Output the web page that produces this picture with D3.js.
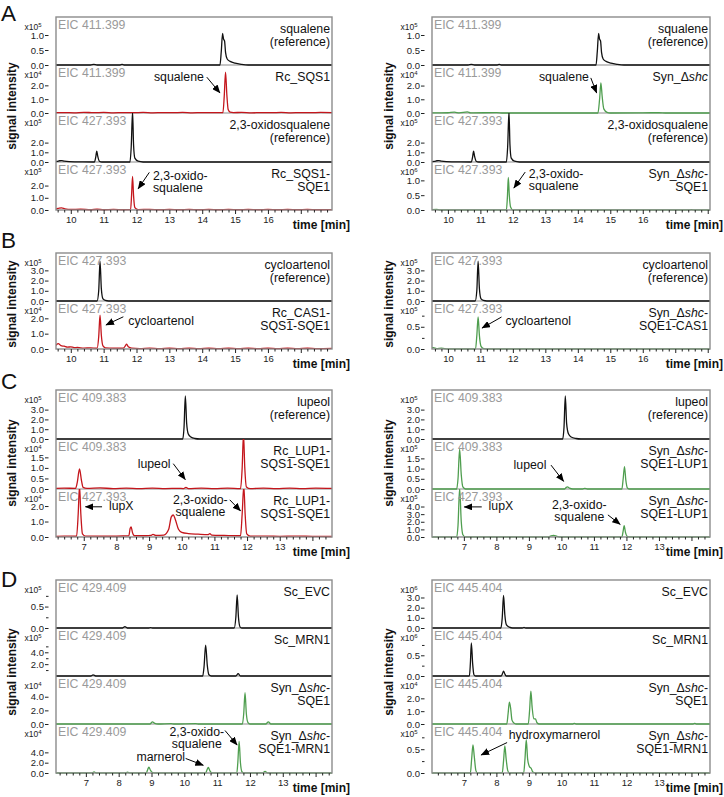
<!DOCTYPE html>
<html><head><meta charset="utf-8">
<script src="https://cdn.jsdelivr.net/npm/d3@7"></script>
<style>body{margin:0;background:#fff}svg{display:block}</style>
</head><body><svg id="c" width="724" height="797"></svg>
<script>
// ---------------- DATA (time [min], intensity in units of the panel exponent) ----------------
const A_TICKS = [10, 11, 12, 13, 14, 15, 16];
const C_TICKS = [7, 8, 9, 10, 11, 12, 13];

const SQUALENE_REF = [[9.4,0],[10.6,0],[10.7,0.02],[10.8,0],[11.5,0],[11.56,0.02],[11.62,0],[14.54,0],[14.58,0.45],[14.62,1.05],[14.65,0.86],[14.68,0.8],[14.71,0.42],[14.76,0.2],[14.85,0.12],[15.0,0.06],[15.2,0.02],[15.4,0],[18.2,0]];
const SQUALENE_REF_R = [[9.4,0],[10.62,0],[10.72,0.02],[10.82,0],[11.52,0],[11.58,0.02],[11.64,0],[14.56,0],[14.6,0.45],[14.64,1.05],[14.67,0.86],[14.7,0.8],[14.73,0.42],[14.78,0.2],[14.87,0.12],[15.02,0.06],[15.22,0.02],[15.42,0],[18.2,0]];
const A_L2 = [[9.4,0.01],[9.8,0.03],[10.1,0.01],[10.4,0.05],[10.7,0.02],[11.0,0.04],[11.3,0.01],[11.6,0.03],[11.9,0.02],[12.2,0.04],[12.5,0.01],[12.8,0.03],[13.1,0.02],[13.4,0.04],[13.7,0.01],[14.0,0.03],[14.3,0.02],[14.63,0.02],[14.67,1.2],[14.71,2.95],[14.75,1.3],[14.79,0.25],[14.85,0.06],[14.95,0.03],[15.2,0.04],[15.5,0.01],[15.8,0.03],[16.1,0.02],[16.4,0.04],[16.7,0.01],[17.0,0.03],[17.3,0.02],[17.6,0.04],[18.0,0.02]];
const OXSQ_REF = [[9.4,0.03],[9.58,0.06],[9.66,0.13],[9.72,0.15],[9.8,0.08],[9.95,0.03],[10.2,0.02],[10.72,0],[10.76,0.5],[10.79,1.13],[10.82,0.6],[10.87,0.08],[10.95,0],[11.8,0],[11.84,1.6],[11.88,5.2],[11.91,1.8],[11.95,0.4],[12.05,0.08],[12.2,0],[18.2,0]];
const A_L4 = [[9.4,0.04],[9.58,0.1],[9.65,0.16],[9.72,0.17],[9.82,0.1],[10.0,0.04],[10.3,0.06],[10.6,0.02],[10.8,0.06],[11.0,0.02],[11.3,0.05],[11.6,0.02],[11.82,0.03],[11.85,1.2],[11.88,2.75],[11.91,1.2],[11.95,0.2],[12.05,0.03],[12.4,0.05],[12.7,0.02],[13.0,0.05],[13.3,0.02],[13.6,0.05],[13.9,0.02],[14.2,0.05],[14.5,0.02],[14.8,0.05],[15.1,0.02],[15.4,0.05],[15.7,0.02],[16.0,0.05],[16.3,0.02],[16.6,0.05],[16.9,0.02],[17.2,0.05],[17.5,0.02],[18.0,0.04]];
const A_R2 = [[9.4,0],[10.0,0.02],[10.2,0.06],[10.35,0.01],[10.6,0.08],[10.7,0.01],[11.5,0.03],[11.7,0],[14.62,0],[14.67,1.0],[14.71,2.2],[14.75,1.2],[14.8,0.3],[14.9,0.05],[15.0,0],[16.5,0.02],[16.7,0],[18.2,0]];
const A_R4 = [[9.4,0],[9.65,0.02],[9.75,0],[11.8,0],[11.83,0.4],[11.86,1.1],[11.89,0.5],[11.93,0.1],[12.0,0],[17.4,0],[17.5,0.01],[17.6,0],[18.2,0]];

const CYC_REF_L = [[9.4,0],[10.8,0],[10.85,1.0],[10.89,3.9],[10.93,1.2],[10.98,0.2],[11.05,0.05],[11.15,0],[18.2,0]];
const B_L2 = [[9.5,0.1],[9.57,0.3],[9.62,0.35],[9.7,0.22],[9.8,0.18],[9.9,0.12],[10.0,0.14],[10.1,0.09],[10.2,0.1],[10.4,0.06],[10.6,0.07],[10.8,0.05],[10.85,0.8],[10.89,2.2],[10.93,0.9],[10.98,0.2],[11.05,0.08],[11.3,0.05],[11.6,0.05],[11.66,0.2],[11.7,0.32],[11.75,0.15],[11.85,0.06],[12.1,0.03],[12.4,0.06],[12.7,0.02],[13.0,0.05],[13.3,0.02],[13.6,0.05],[13.9,0.02],[14.2,0.05],[14.5,0.02],[14.8,0.05],[15.1,0.02],[15.4,0.05],[15.7,0.02],[16.0,0.05],[16.3,0.02],[16.6,0.05],[16.9,0.02],[17.2,0.05],[17.5,0.02],[18.0,0.04]];
const CYC_REF_R = [[9.4,0],[10.84,0],[10.89,1.0],[10.93,3.9],[10.97,1.2],[11.02,0.2],[11.09,0.05],[11.2,0],[18.2,0]];
const B_R2 = [[9.4,0.01],[9.55,0.03],[9.65,0.01],[9.8,0.02],[10.0,0],[10.85,0],[10.89,0.3],[10.93,0.72],[10.97,0.3],[11.02,0.06],[11.1,0.01],[11.2,0],[18.2,0]];

const LUP_REF_L = [[6.0,0],[10.03,0],[10.07,1.2],[10.11,4.4],[10.15,1.6],[10.2,0.5],[10.28,0.2],[10.4,0.05],[10.55,0],[14.8,0]];
const C_L2 = [[6.0,0.02],[6.4,0.04],[6.75,0.03],[6.8,0.3],[6.87,0.95],[6.93,0.4],[6.98,0.08],[7.1,0.03],[7.5,0.05],[7.9,0.02],[8.3,0.04],[8.7,0.02],[9.1,0.04],[9.5,0.02],[9.9,0.03],[10.05,0.02],[10.13,0.08],[10.2,0.02],[10.6,0.04],[11.0,0.02],[11.4,0.04],[11.8,0.02],[11.85,1.0],[11.89,2.6],[11.93,1.0],[11.98,0.1],[12.1,0.02],[12.5,0.04],[12.9,0.02],[13.3,0.04],[13.7,0.02],[14.1,0.04],[14.8,0.02]];
const C_L3 = [[6.0,0.03],[6.4,0.06],[6.78,0.05],[6.83,1.5],[6.87,3.3],[6.91,1.5],[6.96,0.2],[7.05,0.06],[7.5,0.05],[8.0,0.05],[8.38,0.08],[8.42,0.55],[8.45,0.65],[8.49,0.3],[8.55,0.08],[8.9,0.08],[9.05,0.1],[9.12,0.17],[9.2,0.1],[9.45,0.12],[9.6,0.5],[9.68,1.3],[9.74,1.42],[9.8,1.15],[9.9,0.5],[10.0,0.3],[10.2,0.22],[10.5,0.18],[10.8,0.15],[10.86,0.22],[10.92,0.12],[11.3,0.1],[11.8,0.08],[11.85,1.5],[11.9,3.3],[11.94,1.5],[11.99,0.2],[12.1,0.05],[12.6,0.06],[13.0,0.04],[13.5,0.06],[14.0,0.04],[14.8,0.03]];
const LUP_REF_R = [[6.0,0],[10.04,0],[10.08,1.2],[10.12,4.4],[10.16,1.6],[10.22,0.5],[10.3,0.2],[10.45,0.05],[10.6,0],[14.8,0]];
const C_R2 = [[6.0,0],[6.78,0],[6.82,0.5],[6.87,1.95],[6.92,0.7],[6.97,0.1],[7.05,0],[10.1,0],[10.15,0.08],[10.19,0.1],[10.25,0.04],[10.35,0],[10.65,0],[10.72,0.03],[10.8,0],[11.86,0],[11.9,0.5],[11.94,1.1],[11.98,0.45],[12.03,0.05],[12.1,0],[14.8,0]];
const C_R3 = [[6.0,0],[6.78,0],[6.82,1.5],[6.87,6.4],[6.92,2.0],[6.97,0.3],[7.05,0],[9.6,0],[9.68,0.15],[9.76,0.2],[9.85,0.12],[9.95,0],[11.86,0],[11.9,0.8],[11.93,1.5],[11.97,0.6],[12.02,0.1],[12.1,0],[14.8,0]];

const D_L1 = [[6.0,0],[8.12,0],[8.19,0.03],[8.26,0],[8.9,0],[8.97,0.01],[9.05,0],[11.52,0],[11.57,0.25],[11.61,0.77],[11.65,0.25],[11.7,0.02],[11.75,0],[14.8,0]];
const D_L2 = [[6.0,0],[7.15,0],[7.22,0.2],[7.3,0],[10.56,0],[10.6,1.5],[10.65,5.2],[10.7,1.8],[10.75,0.2],[10.82,0],[11.57,0],[11.64,0.4],[11.71,0],[14.8,0]];
const D_L3 = [[6.0,0],[8.95,0],[9.03,0.3],[9.1,0.1],[9.2,0],[9.6,0.05],[9.7,0],[10.35,0.06],[10.45,0],[11.77,0],[11.81,1.5],[11.85,4.6],[11.89,1.5],[11.94,0.2],[12.0,0],[12.48,0],[12.56,0.3],[12.64,0],[14.8,0]];
const D_L4 = [[6.0,0],[7.18,0],[7.25,0.2],[7.32,0],[8.2,0],[8.27,0.15],[8.34,0],[8.84,0],[8.88,0.6],[8.92,1.15],[8.97,0.5],[9.03,0.1],[9.1,0],[10.65,0],[10.69,0.6],[10.73,1.1],[10.78,0.4],[10.84,0],[11.6,0],[11.63,2.0],[11.67,6.15],[11.71,2.0],[11.76,0.2],[11.82,0],[12.38,0],[12.46,0.3],[12.54,0],[14.8,0]];
const D_R1 = [[6.0,0],[8.14,0],[8.18,1.0],[8.22,3.2],[8.26,1.3],[8.31,0.3],[8.4,0.08],[8.5,0],[8.8,0],[8.85,0.05],[8.9,0],[14.8,0]];
const D_R2 = [[6.0,0],[7.17,0],[7.2,0.3],[7.23,0.8],[7.27,0.3],[7.31,0.03],[7.36,0],[8.15,0],[8.19,0.06],[8.22,0.12],[8.26,0.05],[8.3,0],[14.8,0]];
const D_R3 = [[6.0,0],[8.32,0],[8.36,0.8],[8.4,1.7],[8.44,1.2],[8.48,0.3],[8.55,0.05],[8.6,0],[8.98,0],[9.02,1.0],[9.06,2.55],[9.1,1.3],[9.15,0.4],[9.2,0.4],[9.25,0.1],[9.32,0],[10.35,0],[10.4,0.05],[10.45,0],[14.05,0],[14.1,0.05],[14.15,0],[14.8,0]];
const D_R4 = [[6.0,0],[7.2,0],[7.24,0.3],[7.28,0.59],[7.32,0.35],[7.37,0.05],[7.42,0],[8.18,0],[8.22,0.25],[8.26,0.57],[8.3,0.3],[8.35,0.05],[8.4,0],[8.84,0],[8.88,0.3],[8.92,0.7],[8.96,0.3],[9.02,0.13],[9.07,0.1],[9.12,0.02],[9.2,0],[14.8,0]];

// sub-panel descriptions (labels, exponent, y-domain max, y ticks, trace, sample kind, annotations)
const A_LEFT = [
  {eic:"EIC 411.399", label:["squalene","(reference)"], exp:5, max:1.6, ticks:[0,0.5,1], kind:"ref", data:SQUALENE_REF},
  {eic:"EIC 411.399", label:["Rc_SQS1"], exp:4, max:3.47, ticks:[0,1,2], kind:"rc", data:A_L2,
    ann:[{text:["squalene"], t:14.05, v:2.29, anchor:"end", from:[14.14,2.59], to:[14.54,1.45]}]},
  {eic:"EIC 427.393", label:["2,3-oxidosqualene","(reference)"], exp:5, max:5.05, ticks:[0,1,2], kind:"ref", data:OXSQ_REF},
  {eic:"EIC 427.393", label:["Rc_SQS1-","SQE1"], exp:5, max:3.93, ticks:[0,1,2], kind:"rc", data:A_L4,
    ann:[{text:["2,3-oxido-","squalene"], t:12.5, v:2.48, anchor:"start", from:[12.39,3.08], to:[12.05,1.74]}]}
];
const A_RIGHT = [
  {eic:"EIC 411.399", label:["squalene","(reference)"], exp:5, max:1.6, ticks:[0,0.5,1], kind:"ref", data:SQUALENE_REF_R},
  {eic:"EIC 411.399", label:["Syn_Δ<i>shc</i>"], exp:4, max:3.5, ticks:[0,1,2], kind:"syn", data:A_R2,
    ann:[{text:["squalene"], t:14.34, v:2.31, anchor:"end", from:[14.4,2.56], to:[14.58,1.46]}]},
  {eic:"EIC 427.393", label:["2,3-oxidosqualene","(reference)"], exp:5, max:5.05, ticks:[0,1,2], kind:"ref", data:OXSQ_REF},
  {eic:"EIC 427.393", label:["Syn_Δ<i>shc</i>-","SQE1"], exp:6, max:1.62, ticks:[0,0.5,1], kind:"syn", data:A_R4,
    ann:[{text:["2,3-oxido-","squalene"], t:12.49, v:1.09, anchor:"start", from:[12.38,1.28], to:[12.03,0.74]}]}
];
const B_LEFT = [
  {eic:"EIC 427.393", label:["cycloartenol","(reference)"], exp:5, max:4.7, ticks:[0,1,2,3], kind:"ref", data:CYC_REF_L},
  {eic:"EIC 427.393", label:["Rc_CAS1-","SQS1-SQE1"], exp:4, max:3.13, ticks:[0,1,2], kind:"rc", data:B_L2,
    ann:[{text:["cycloartenol"], t:11.75, v:1.57, anchor:"start", from:[11.6,2.1], to:[11.07,1.57]}]}
];
const B_RIGHT = [
  {eic:"EIC 427.393", label:["cycloartenol","(reference)"], exp:5, max:4.7, ticks:[0,1,2,3], kind:"ref", data:CYC_REF_R},
  {eic:"EIC 427.393", label:["Syn_Δ<i>shc</i>-","SQE1-CAS1"], exp:5, max:1.08, ticks:[0,0.5], minor:[0.25,0.75], kind:"syn", data:B_R2,
    ann:[{text:["cycloartenol"], t:11.77, v:0.53, anchor:"start", from:[11.65,0.72], to:[11.05,0.47]}]}
];
const C_LEFT = [
  {eic:"EIC 409.383", label:["lupeol","(reference)"], exp:5, max:5.0, ticks:[0,1,2,3], kind:"ref", data:LUP_REF_L},
  {eic:"EIC 409.383", label:["Rc_LUP1-","SQS1-SQE1"], exp:4, max:2.37, ticks:[0,0.5,1,1.5], kind:"rc", data:C_L2,
    ann:[{text:["lupeol"], t:8.65, v:0.99, anchor:"start", from:[9.74,1.2], to:[10.11,0.44]}]},
  {eic:"EIC 427.393", label:["Rc_LUP1-","SQS1-SQE1"], exp:4, max:3.1, ticks:[0,1,2], kind:"rc", data:C_L3,
    ann:[{text:["lupX"], t:7.77, v:1.72, anchor:"start", from:[7.56,1.95], to:[7.05,1.95]},
         {text:["2,3-oxido-","squalene"], t:10.57, v:2.14, anchor:"middle", from:[11.47,2.4], to:[11.8,1.68]}]}
];
const C_RIGHT = [
  {eic:"EIC 409.383", label:["lupeol","(reference)"], exp:5, max:5.0, ticks:[0,1,2,3], kind:"ref", data:LUP_REF_R},
  {eic:"EIC 409.383", label:["Syn_Δ<i>shc</i>-","SQE1-LUP1"], exp:5, max:2.45, ticks:[0,0.5,1,1.5], kind:"syn", data:C_R2,
    ann:[{text:["lupeol"], t:8.53, v:0.99, anchor:"start", from:[9.68,1.17], to:[10.07,0.37]}]},
  {eic:"EIC 427.393", label:["Syn_Δ<i>shc</i>-","SQE1-LUP1"], exp:5, max:6.3, ticks:[0,1,2,3,4], kind:"syn", data:C_R3,
    ann:[{text:["lupX"], t:7.76, v:3.5, anchor:"start", from:[7.55,3.95], to:[7.01,3.95]},
         {text:["2,3-oxido-","squalene"], t:10.55, v:3.73, anchor:"middle", from:[11.43,2.9], to:[11.81,1.65]}]}
];
const D_LEFT = [
  {eic:"EIC 429.409", label:["Sc_EVC"], exp:5, max:1.12, ticks:[0,0.5], minor:[0.25,0.75], kind:"ref", data:D_L1},
  {eic:"EIC 429.409", label:["Sc_MRN1"], exp:5, max:8.1, ticks:[2,4], minor:[1,3,5], kind:"ref", data:D_L2},
  {eic:"EIC 429.409", label:["Syn_Δ<i>shc</i>-","SQE1"], exp:4, max:7.04, ticks:[0,2,4], kind:"syn", data:D_L3},
  {eic:"EIC 429.409", label:["Syn_Δ<i>shc</i>-","SQE1-MRN1"], exp:4, max:9.5, ticks:[0,2,4], kind:"syn", data:D_L4,
    ann:[{text:["2,3-oxido-","squalene"], t:10.38, v:7.1, anchor:"middle", from:[11.24,8.24], to:[11.61,5.43]},
         {text:["marnerol"], t:10.02, v:2.35, anchor:"end", from:[10.04,2.82], to:[10.58,1.5]}]}
];
const D_RIGHT = [
  {eic:"EIC 445.404", label:["Sc_EVC"], exp:6, max:4.72, ticks:[0,1,2,3], kind:"ref", data:D_R1},
  {eic:"EIC 445.404", label:["Sc_MRN1"], exp:6, max:1.16, ticks:[0,0.5], minor:[0.25,0.75], kind:"ref", data:D_R2},
  {eic:"EIC 445.404", label:["Syn_Δ<i>shc</i>-","SQE1"], exp:4, max:3.74, ticks:[0,1,2], kind:"syn", data:D_R3},
  {eic:"EIC 445.404", label:["Syn_Δ<i>shc</i>-","SQE1-MRN1"], exp:5, max:1.03, ticks:[0,0.5], minor:[0.25,0.75], kind:"syn", data:D_R4,
    ann:[{text:["hydroxymarnerol"], t:8.38, v:0.72, anchor:"start", from:[8.33,0.64], to:[7.53,0.38]}]}
];

// ---------------- LAYOUT & STYLE ----------------
const FONT = '"Liberation Sans", Arial, Helvetica, sans-serif';
const COLORS = {ref:"#111111", rc:"#c4161c", syn:"#4f9e4f"};
const SIDES = {
  left:  {x0:56,  x1:332, ylab:12,  timeX:350},
  right: {x0:432, x1:710, ylab:389, timeX:723}
};
const PANELS = [
  {letter:"A", letterY:20.5, bounds:[17,65,113,162,210], ylabY:106, ticks:A_TICKS,
   dom:{left:[9.55,17.95], right:[9.51,18.07]}, subs:{left:A_LEFT, right:A_RIGHT}},
  {letter:"B", letterY:248, bounds:[253,301,349], ylabY:304, ticks:A_TICKS,
   dom:{left:[9.55,17.95], right:[9.51,18.07]}, subs:{left:B_LEFT, right:B_RIGHT}},
  {letter:"C", letterY:389, bounds:[390,439,489,537], ylabY:463, ticks:C_TICKS,
   dom:{left:[6.15,14.6], right:[6.02,14.57]}, subs:{left:C_LEFT, right:C_RIGHT}},
  {letter:"D", letterY:587, bounds:[580,628,676,724,773], ylabY:672, ticks:C_TICKS,
   dom:{left:[6.09,14.5], right:[6.02,14.57]}, subs:{left:D_LEFT, right:D_RIGHT}}
];

const svg = d3.select("#c").style("font-family", FONT);
const defs = svg.append("defs");
defs.append("marker").attr("id","arrow").attr("markerUnits","userSpaceOnUse")
  .attr("markerWidth",9).attr("markerHeight",7).attr("refX",8).attr("refY",3.5).attr("orient","auto")
  .append("path").attr("d","M0,0 L8.5,3.5 L0,7 Z").attr("fill","#000");

function richText(textSel, str){
  str.split(/(<i>.*?<\/i>)/).filter(s=>s.length).forEach(p=>{
    if (p.startsWith("<i>")) textSel.append("tspan").attr("font-style","italic").text(p.slice(3,-4));
    else textSel.append("tspan").text(p);
  });
}

let clipN = 0;
function drawPanel(P, sideKey){
  const S = SIDES[sideKey];
  const subs = P.subs[sideKey];
  const x = d3.scaleLinear().domain(P.dom[sideKey]).range([S.x0, S.x1]);
  const g = svg.append("g");
  const top = P.bounds[0], bottom = P.bounds[P.bounds.length-1];

  // separators
  P.bounds.slice(1,-1).forEach(b=>{
    g.append("line").attr("x1",S.x0).attr("x2",S.x1).attr("y1",b).attr("y2",b)
      .attr("stroke","#8c8c8c").attr("stroke-width",1.2);
  });

  subs.forEach((sp,i)=>{
    const st = P.bounds[i], sb = P.bounds[i+1];
    const y = d3.scaleLinear().domain([0, sp.max]).range([sb, st]);
    const id = "clip"+(clipN++);
    defs.append("clipPath").attr("id",id).append("rect")
      .attr("x",S.x0).attr("y",st).attr("width",S.x1-S.x0).attr("height",sb-st+1.5);

    // trace
    g.append("path").datum(sp.data).attr("clip-path",`url(#${id})`)
      .attr("fill","none").attr("stroke",COLORS[sp.kind]).attr("stroke-width",1.3)
      .attr("stroke-linejoin","round")
      .attr("d", d3.line().x(d=>x(d[0])).y(d=>y(d[1])).curve(d3.curveMonotoneX));

    // y axis
    const ya = g.append("g").attr("transform",`translate(${S.x0-7.5},0)`)
      .call(d3.axisLeft(y).tickValues(sp.ticks).tickSize(3.5).tickPadding(1).tickFormat(d3.format(".1f")));
    ya.select(".domain").remove();
    ya.selectAll("text").attr("font-size","9.5px").attr("font-family",FONT).attr("fill","#222");
    ya.selectAll("line").attr("stroke","#222");
    if (sp.minor){
      const ym = g.append("g").attr("transform",`translate(${S.x0-7.5},0)`)
        .call(d3.axisLeft(y).tickValues(sp.minor).tickSize(2.5).tickFormat(""));
      ym.select(".domain").remove();
      ym.selectAll("line").attr("stroke","#222");
    }

    // exponent label
    const ex = g.append("text").attr("x",S.x0-14.5).attr("y",st+13).attr("text-anchor","end")
      .attr("font-size","8.5px").attr("fill","#222");
    ex.append("tspan").text("x10");
    ex.append("tspan").attr("font-size","6px").attr("dy",-3.5).text(sp.exp);

    // EIC label
    g.append("text").attr("x",S.x0+2).attr("y",st+12).attr("font-size","12.3px")
      .attr("fill","#9a9a9a").text(sp.eic);

    // sample label
    sp.label.forEach((line,k)=>{
      const t = g.append("text").attr("x",S.x1-2).attr("y",st+16+k*12.5).attr("text-anchor","end")
        .attr("font-size","12.3px").attr("fill","#111");
      richText(t, line);
    });

    // annotations
    (sp.ann||[]).forEach(a=>{
      a.text.forEach((line,k)=>{
        g.append("text").attr("x",x(a.t)).attr("y",y(a.v)+k*12).attr("text-anchor",a.anchor)
          .attr("font-size","12.3px").attr("fill","#111").text(line);
      });
      g.append("line").attr("x1",x(a.from[0])).attr("y1",y(a.from[1]))
        .attr("x2",x(a.to[0])).attr("y2",y(a.to[1]))
        .attr("stroke","#000").attr("stroke-width",1).attr("marker-end","url(#arrow)");
    });
  });

  // outer box
  g.append("rect").attr("x",S.x0).attr("y",top).attr("width",S.x1-S.x0).attr("height",bottom-top)
    .attr("fill","none").attr("stroke","#8c8c8c").attr("stroke-width",1.4);

  // x axis
  const dom = P.dom[sideKey];
  const majors = d3.range(Math.ceil(dom[0]), Math.floor(dom[1])+1);
  const minors = d3.range(Math.ceil(dom[0]*5)/5, dom[1], 0.2).filter(v=>Math.abs(v-Math.round(v))>0.01);
  const xa = g.append("g").attr("transform",`translate(0,${bottom})`)
    .call(d3.axisBottom(x).tickValues(majors).tickSize(4).tickPadding(2)
      .tickFormat(d=>P.ticks.includes(d)? d : ""));
  xa.select(".domain").remove();
  xa.selectAll("text").attr("font-size","9.5px").attr("font-family",FONT).attr("fill","#222");
  xa.selectAll("line").attr("stroke","#222");
  const xm = g.append("g").attr("transform",`translate(0,${bottom})`)
    .call(d3.axisBottom(x).tickValues(minors).tickSize(2.5).tickFormat(""));
  xm.select(".domain").remove();
  xm.selectAll("line").attr("stroke","#222");

  g.append("text").attr("x",S.timeX).attr("y",bottom+18.5).attr("text-anchor","end")
    .attr("font-size","12px").attr("font-weight","bold").attr("fill","#111").text("time [min]");

  g.append("text").attr("transform",`translate(${S.ylab+4},${P.ylabY}) rotate(-90)`)
    .attr("text-anchor","middle").attr("font-size","12px").attr("font-weight","bold")
    .attr("fill","#111").text("signal intensity");
}

PANELS.forEach(P=>{
  svg.append("text").attr("x",1).attr("y",P.letterY).attr("font-size","22.5px").attr("fill","#111").text(P.letter);
  drawPanel(P,"left");
  drawPanel(P,"right");
});
</script>
</body></html>
